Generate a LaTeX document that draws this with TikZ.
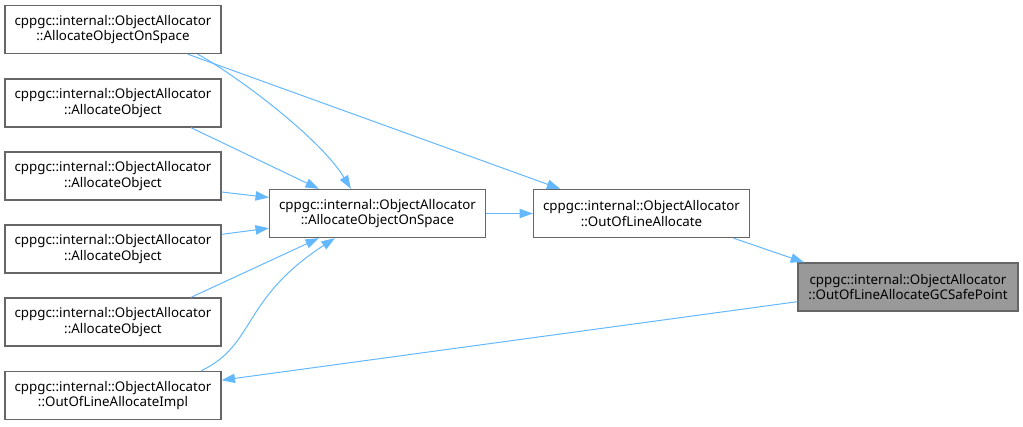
\documentclass[tikz,border=0pt]{standalone}
\usepackage{fontspec}
\setmainfont{Noto Sans}
\usetikzlibrary{arrows.meta, positioning, calc}
\definecolor{edgeBlue}{HTML}{63B8FF}
\definecolor{boxLine}{HTML}{666666}
\definecolor{boxSel}{HTML}{999999}
\tikzset{
  arrowB/.style={-{Triangle[length=10pt, width=7pt]}, edgeBlue, line width=0.75pt},
  fnBox/.style={rectangle, draw=boxLine, fill=white, line width=1pt,
                align=center, font=\fontsize{10}{11.5}\selectfont,
                inner sep=0pt, minimum width=162pt, minimum height=36pt},
  fnBoxSel/.style={fnBox, fill=boxSel, minimum width=165pt},
}
\begin{document}
\begin{tikzpicture}[x=0.75pt, y=-0.75pt]
    \useasboundingbox (0,0) rectangle (1023,426);
    \node[fnBox] (l1) at (113,29.5) {cppgc::internal::ObjectAllocator\\::AllocateObjectOnSpace};
    \node[fnBox] (l2) at (113,103) {cppgc::internal::ObjectAllocator\\::AllocateObject};
    \node[fnBox] (l3) at (113,176) {cppgc::internal::ObjectAllocator\\::AllocateObject};
    \node[fnBox] (l4) at (113,249) {cppgc::internal::ObjectAllocator\\::AllocateObject};
    \node[fnBox] (l5) at (113,322) {cppgc::internal::ObjectAllocator\\::AllocateObject};
    \node[fnBox] (l6) at (113,395.5) {cppgc::internal::ObjectAllocator\\::OutOfLineAllocateImpl};
    \node[fnBox] (space) at (377.5,213.5) {cppgc::internal::ObjectAllocator\\::AllocateObjectOnSpace};
    \node[fnBox] (ool) at (641.5,213.5) {cppgc::internal::ObjectAllocator\\::OutOfLineAllocate};
    \node[fnBoxSel] (safe) at (908,287) {cppgc::internal::ObjectAllocator\\::OutOfLineAllocateGCSafePoint};

    \draw[arrowB] ([xshift=-18pt]l1.south east) .. controls +(40,22) and +(-30,-50) .. ([xshift=-20pt]space.north);
    \draw[arrowB] ([xshift=-25.5pt]l1.south east) -- ([xshift=-61pt]ool.north);
    \draw[arrowB] ([xshift=-23pt]l2.south east) -- ([xshift=-44pt]space.north);
    \draw[arrowB] ([yshift=-12pt]l3.east) -- ([yshift=12pt]space.west);
    \draw[arrowB] ([yshift=11pt]l4.east) -- ([yshift=-11pt]space.west);
    \draw[arrowB] ([xshift=-23pt]l5.north east) -- ([xshift=-44pt]space.south);
    \draw[arrowB] ([xshift=-15.5pt]l6.north east) .. controls +(55,-26) and +(-94,61) .. ([xshift=-32pt]space.south);
    \draw[arrowB] (space) -- (ool);
    \draw[arrowB] ([xshift=-12.5pt]ool.south east) -- ([xshift=5pt]safe.north west);
    \draw[arrowB] ([yshift=-11pt]safe.west) -- ([yshift=11.5pt]l6.east);
\end{tikzpicture}
\end{document}
